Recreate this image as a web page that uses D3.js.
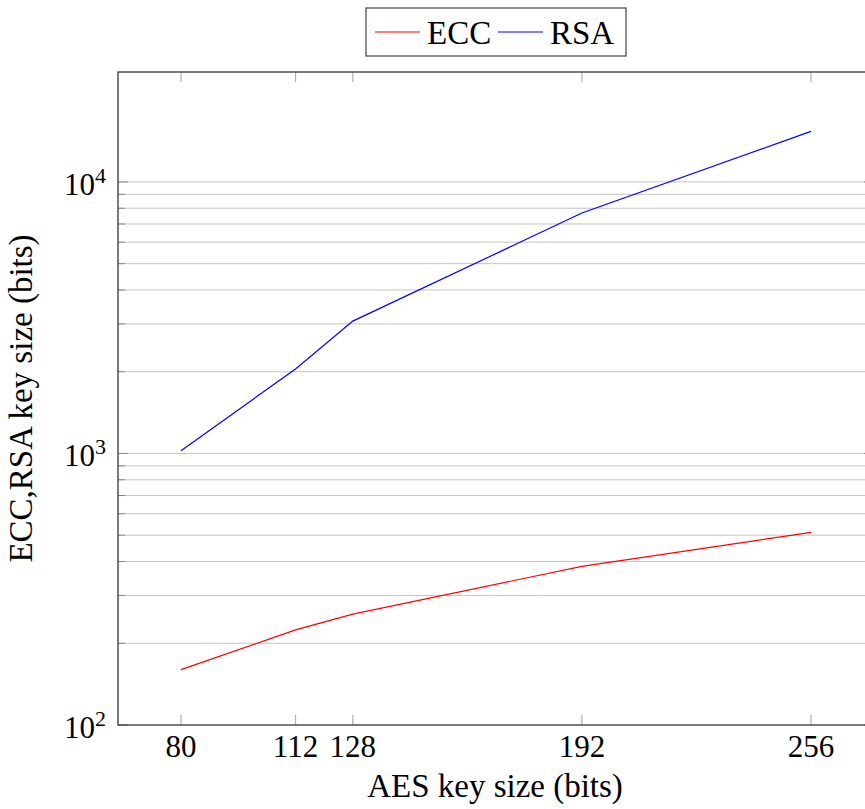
<!DOCTYPE html>
<html>
<head>
<meta charset="utf-8">
<script src="https://cdn.jsdelivr.net/npm/d3@7"></script>
<style>
  body { margin: 0; background: #fff; }
  svg { display: block; font-family: "Liberation Serif", "DejaVu Serif", serif; }
</style>
</head>
<body>
<svg id="chart"></svg>
<script>
// data
var aesBits = [80, 112, 128, 192, 256];
var eccBits = [160, 224, 256, 384, 512];
var rsaBits = [1024, 2048, 3072, 7680, 15360];
var seriesNames = ['ECC', 'RSA'];
var seriesColors = ['#ff0000', '#0000ff'];
var yMajor = [100, 1000, 10000];

var width = 865;
var height = 809;
var plotLeft = 118, plotRight = 874, plotTop = 72, plotBottom = 725;

var svg = d3.select('#chart')
    .attr('width', width)
    .attr('height', height);

var xScale = d3.scaleLinear()
    .domain([62.4, 273.6])
    .range([plotLeft, plotRight]);

var yScale = d3.scaleLog()
    .domain([100, 25400])
    .range([plotBottom, plotTop]);

// minor values between the decades that have a major tick on both sides
var yMinor = [];
for (var k = 0; k < yMajor.length - 1; k++) {
    for (var m = 2; m <= 9; m++) yMinor.push(yMajor[k] * m);
}

// grid
svg.append('g')
    .selectAll('line')
    .data(yMinor.concat(yMajor.slice(1)))
    .enter()
    .append('line')
        .attr('x1', plotLeft)
        .attr('x2', plotRight)
        .attr('y1', d => yScale(d))
        .attr('y2', d => yScale(d))
        .attr('stroke', '#c4c4c4')
        .attr('stroke-width', 1);

// x ticks (bottom and top)
var xt = svg.append('g');
aesBits.forEach(function(v) {
    xt.append('line')
        .attr('x1', xScale(v)).attr('x2', xScale(v))
        .attr('y1', plotBottom).attr('y2', plotBottom - 10)
        .attr('stroke', '#b0b0b0').attr('stroke-width', 1.2);
    xt.append('line')
        .attr('x1', xScale(v)).attr('x2', xScale(v))
        .attr('y1', plotTop).attr('y2', plotTop + 10)
        .attr('stroke', '#b0b0b0').attr('stroke-width', 1.2);
});

// y ticks (left and right)
var yt = svg.append('g');
yMajor.concat(yMinor).forEach(function(v) {
    var len = yMajor.indexOf(v) >= 0 ? 10 : 7;
    yt.append('line')
        .attr('x1', plotLeft).attr('x2', plotLeft + len)
        .attr('y1', yScale(v)).attr('y2', yScale(v))
        .attr('stroke', '#888').attr('stroke-width', 1);
    yt.append('line')
        .attr('x1', plotRight).attr('x2', plotRight - len)
        .attr('y1', yScale(v)).attr('y2', yScale(v))
        .attr('stroke', '#888').attr('stroke-width', 1);
});

// series
var line = d3.line()
    .x((d, i) => xScale(aesBits[i]))
    .y(d => yScale(d));

[eccBits, rsaBits].forEach(function(s, i) {
    svg.append('path')
        .datum(s)
        .attr('d', line)
        .attr('fill', 'none')
        .attr('stroke', seriesColors[i])
        .attr('stroke-width', 1.2);
});

// axis frame
svg.append('rect')
    .attr('x', plotLeft).attr('y', plotTop)
    .attr('width', plotRight - plotLeft).attr('height', plotBottom - plotTop)
    .attr('fill', 'none')
    .attr('stroke', '#333')
    .attr('stroke-width', 1.3);

// x tick labels
svg.append('g')
    .selectAll('text')
    .data(aesBits)
    .enter()
    .append('text')
        .attr('x', d => xScale(d))
        .attr('y', 757)
        .attr('text-anchor', 'middle')
        .attr('font-size', 31)
        .text(d => d);

// y tick labels: 10^k
var yl = svg.append('g')
    .selectAll('text')
    .data(yMajor)
    .enter()
    .append('text')
        .attr('x', 106)
        .attr('y', d => yScale(d) + 13)
        .attr('text-anchor', 'end')
        .attr('font-size', 31);
yl.append('tspan').text('10');
yl.append('tspan')
    .attr('dy', -12)
    .attr('font-size', 22)
    .text(d => Math.round(Math.log10(d)));

// axis labels
svg.append('text')
    .attr('x', (plotLeft + plotRight) / 2 - 1)
    .attr('y', 797)
    .attr('text-anchor', 'middle')
    .attr('font-size', 33)
    .text('AES key size (bits)');

svg.append('text')
    .attr('transform', 'translate(32,' + (plotTop + plotBottom) / 2 + ') rotate(-90)')
    .attr('text-anchor', 'middle')
    .attr('font-size', 33)
    .text('ECC,RSA key size (bits)');

// legend
var legend = svg.append('g');
legend.append('rect')
    .attr('x', 366).attr('y', 8)
    .attr('width', 260).attr('height', 48)
    .attr('fill', '#fff')
    .attr('stroke', '#444')
    .attr('stroke-width', 1.2);
var legX = [375, 498];
seriesNames.forEach(function(name, i) {
    legend.append('line')
        .attr('x1', legX[i]).attr('x2', legX[i] + 45)
        .attr('y1', 32).attr('y2', 32)
        .attr('stroke', seriesColors[i])
        .attr('stroke-width', 1.2);
    legend.append('text')
        .attr('x', legX[i] + 52)
        .attr('y', 44)
        .attr('font-size', 33)
        .text(name);
});
</script>
</body>
</html>
